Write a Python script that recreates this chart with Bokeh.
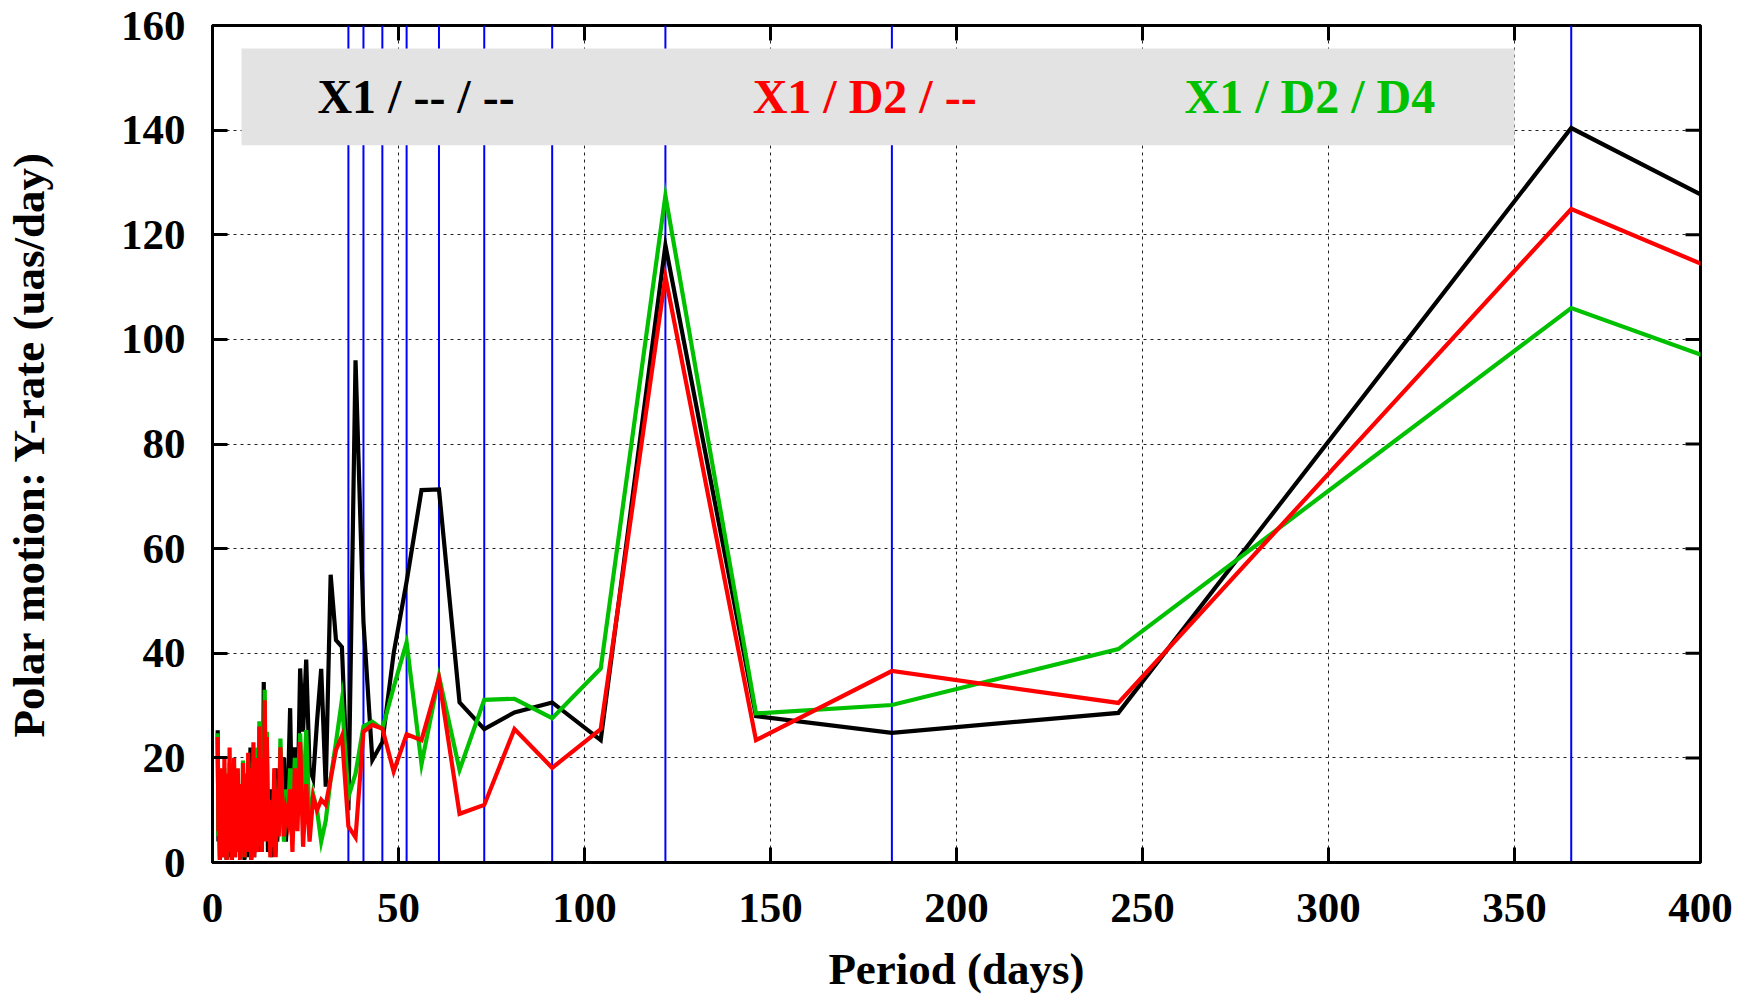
import math
from bokeh.plotting import figure
from bokeh.models import Range1d, FixedTicker, Span, ColumnDataSource
from bokeh.core.properties import value
from bokeh.embed import file_html
from bokeh.resources import INLINE

# ---- data -------------------------------------------------------------
# periods (days) of the resolved harmonics
periods_main = [730.5, 365.25, 243.5, 182.63, 146.1, 121.75, 104.36, 91.31, 81.17, 73.05,
                66.41, 60.88, 56.19, 52.18, 48.7, 45.66, 42.97, 40.58, 38.45, 36.53,
                34.79, 33.2, 31.76, 30.44, 29.22, 28.1, 27.06, 26.09, 25.19, 24.35,
                23.56, 22.83, 22.14, 21.49, 20.87, 20.29, 19.74, 19.22, 18.73, 18.26,
                17.82, 17.39, 16.99, 16.6, 16.23, 15.88, 15.54, 15.22, 14.91, 14.61,
                14.32, 14.05, 13.78, 13.53, 13.28, 13.04, 12.82, 12.59, 12.38, 12.18]

black_main = [7, 140.4, 28.6, 24.8, 28.0, 118, 23.4, 30.6, 28.7, 25.5,
              30.6, 71.3, 71.2, 53.7, 40, 23, 19.6, 46, 96, 10,
              41.2, 42.5, 55, 14.5, 37, 27, 16, 18, 38.8, 25,
              37.1, 9, 22, 5, 29.5, 14, 4, 20, 8, 16,
              10, 4, 18, 3, 7, 1, 14, 5, 2, 20,
              6, 12, 34.5, 8, 15, 3, 20, 6, 11, 2]

red_main = [15.6, 124.9, 30.5, 36.6, 23.4, 112, 25.5, 18.1, 25.5, 11.0,
            9.3, 35.2, 23.4, 24.5, 17.4, 25.6, 26.3, 25.0, 4.8, 6.9,
            24.2, 21.5, 16, 11, 12, 10, 12.5, 4, 15, 3,
            23, 6, 18, 2, 14, 8, 10, 5, 12, 22,
            5, 14, 1, 18, 3, 8, 1, 12, 4, 24,
            4, 31, 9, 20, 2, 16, 6, 26, 3, 12]

green_main = [12.5, 106, 40.8, 30.1, 28.5, 127.5, 37.1, 27.6, 31.3, 31.1,
              17.7, 35.6, 18.8, 42.1, 33.5, 25.5, 26.9, 26, 17, 12.5,
              31.1, 23, 16, 8, 4, 10, 13, 7, 25.3, 10,
              24.7, 12, 20, 6, 18, 9, 14, 4, 11, 23.7,
              6, 12, 2, 16, 4, 9, 3, 10, 6, 25,
              6, 33, 10, 18, 3, 14, 5, 27, 4, 10]

# short periods (dense part of the spectrum)
periods_dense = [12.0, 11.8, 11.6, 11.4, 11.2, 11.0, 10.8, 10.6, 10.4, 10.2,
                 10.0, 9.8, 9.6, 9.4, 9.2, 9.0, 8.8, 8.6, 8.4, 8.2,
                 8.0, 7.8, 7.6, 7.4, 7.2, 7.0, 6.8, 6.6, 6.4, 6.2,
                 6.0, 5.8, 5.6, 5.4, 5.2, 5.0, 4.8, 4.6, 4.4, 4.2,
                 4.0, 3.8, 3.6, 3.4, 3.2, 3.0, 2.8, 2.6, 2.4, 2.2,
                 2.0, 1.8, 1.6, 1.4]

black_dense = [3, 16, 2, 12, 1, 18, 4, 10, 0.5, 22, 2, 8, 15, 1, 11, 3, 13, 0.5, 7, 15,
               2, 6, 12, 1, 9, 4, 14, 2, 7, 12, 1, 15, 3, 8, 0.5, 11, 5, 16, 1, 8,
               13, 0.5, 10, 3, 15, 1, 7, 12, 2, 14, 0.5, 9, 4, 25.3]

red_dense = [2, 20, 4, 15, 1, 23, 6, 12, 0.5, 18, 3, 9, 21, 2, 14, 5, 17, 1, 10, 19,
             3, 8, 15, 0.5, 12, 6, 18, 2, 9, 16, 1, 20, 4, 11, 0.5, 14, 7, 22, 2, 10,
             17, 0.5, 13, 5, 20, 1, 9, 15, 3, 18, 0.5, 12, 6, 24]

green_dense = [4, 22, 3, 16, 2, 19, 5, 11, 1, 15, 4, 10, 19.5, 2, 13, 6, 16, 1, 9, 19.5,
               2, 7, 14, 1, 11, 5, 17, 3, 8, 15, 2, 18.5, 3, 10, 1, 13, 6, 19, 2, 9,
               16, 1, 12, 4, 18, 2, 8, 14, 3, 17, 1, 11, 5, 24.7]

# reference periods (365.25 / n days)
marker_periods = [365.25, 182.63, 121.75, 91.31, 73.05, 60.88, 52.18, 45.66, 40.58, 36.53]

series_labels = ["X1 / -- / --", "X1 / D2 / --", "X1 / D2 / D4"]
series_colors = ["#000000", "#ff0000", "#00c000"]
label_x = [28.2, 145.2, 261.3]
label_y = [146.4, 146.4, 146.4]
key_box = dict(left=[7.8], right=[350], bottom=[137.1], top=[155.6])

x_ticks = [0, 50, 100, 150, 200, 250, 300, 350, 400]
y_ticks = [0, 20, 40, 60, 80, 100, 120, 140, 160]
X_MIN, X_MAX, Y_MIN, Y_MAX = 0, 400, 0, 160

# ---- figure -----------------------------------------------------------
FONT = "Liberation Serif"

p = figure(width=1739, height=1000, output_backend="svg", toolbar_location=None,
           x_range=Range1d(X_MIN, X_MAX), y_range=Range1d(Y_MIN, Y_MAX),
           min_border_left=212, min_border_right=39, min_border_top=25, min_border_bottom=138)
p.background_fill_color = "white"
p.border_fill_color = "white"
p.outline_line_color = "black"
p.outline_line_width = 3

bottom_ax = p.below[0]
left_ax = p.left[0]
bottom_ax.ticker = FixedTicker(ticks=x_ticks)
left_ax.ticker = FixedTicker(ticks=y_ticks)
bottom_ax.axis_label = "Period (days)"
left_ax.axis_label = "Polar motion: Y-rate (uas/day)"

for ax in [bottom_ax, left_ax]:
    ax.axis_line_width = 3
    ax.axis_line_color = "black"
    ax.major_tick_in = 15
    ax.major_tick_out = 0
    ax.major_tick_line_width = 3
    ax.minor_tick_line_color = None
    ax.major_label_text_font = FONT
    ax.major_label_text_font_style = "bold"
    ax.major_label_text_font_size = "43px"
    ax.major_label_text_color = "black"
    ax.axis_label_text_font = FONT
    ax.axis_label_text_font_style = "bold"
    ax.axis_label_text_font_size = "45px"
    ax.axis_label_text_color = "black"

bottom_ax.major_label_standoff = 31
bottom_ax.axis_label_standoff = 19
left_ax.major_label_standoff = 27
left_ax.axis_label_standoff = 64

for g in [p.xgrid[0], p.ygrid[0]]:
    g.grid_line_color = "#222222"
    g.grid_line_width = 1
    g.grid_line_dash = "3 4"
p.xgrid[0].ticker = FixedTicker(ticks=x_ticks)
p.ygrid[0].ticker = FixedTicker(ticks=y_ticks)

# mirrored inward ticks on the top and right frame edges (half of each dash is clipped)
p.scatter(x=x_ticks, y=[Y_MAX] * len(x_ticks), marker="dash", size=30, angle=math.pi / 2,
          line_color="black", line_width=3)
p.scatter(x=[X_MAX] * len(y_ticks), y=y_ticks, marker="dash", size=30, angle=0,
          line_color="black", line_width=3)

# blue reference lines (under the key box)
for per in marker_periods:
    s = Span(location=per, dimension="height", line_color="#0000ff", line_width=2)
    s.level = "underlay"
    p.add_layout(s)

# key box
p.quad(source=ColumnDataSource(key_box), left="left", right="right", bottom="bottom", top="top",
       fill_color="#e3e3e3", line_color=None)

# series (black first, red on top)
periods_all = periods_main + periods_dense
series_values = [black_main + black_dense, green_main + green_dense, red_main + red_dense]
series_draw_colors = [series_colors[0], series_colors[2], series_colors[1]]
for vals, col in zip(series_values, series_draw_colors):
    src = ColumnDataSource(dict(x=periods_all, y=vals))
    p.line("x", "y", source=src, line_color=col, line_width=4.2, line_join="miter")

# key texts
p.text(x=label_x, y=label_y, text=series_labels, text_color=series_colors,
       text_font=value(FONT), text_font_style="bold", text_font_size="48px",
       text_align="left", text_baseline="middle")

open("out.html", "w").write(file_html(p, INLINE))
